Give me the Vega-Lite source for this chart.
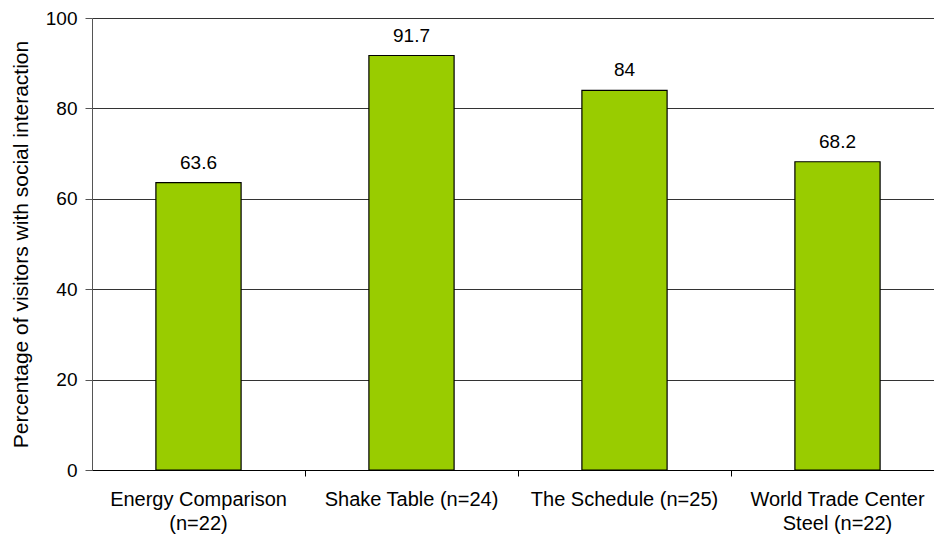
{
  "$schema": "https://vega.github.io/schema/vega-lite/v6.json",
  "width": 842,
  "height": 452,
  "autosize": {"type": "none"},
  "padding": {"left": 92, "top": 18, "right": 0, "bottom": 68},
  "background": "white",
  "config": {
    "view": {"stroke": null},
    "font": "Liberation Sans",
    "axis": {"labelFont": "Liberation Sans", "titleFont": "Liberation Sans"}
  },
  "data": {
    "values": [
      {"exhibit": "Energy Comparison (n=22)", "pct": 63.6},
      {"exhibit": "Shake Table (n=24)", "pct": 91.7},
      {"exhibit": "The Schedule (n=25)", "pct": 84},
      {"exhibit": "World Trade Center Steel (n=22)", "pct": 68.2}
    ]
  },
  "encoding": {
    "y": {
      "field": "pct",
      "type": "quantitative",
      "scale": {"domain": [0, 100], "nice": false},
      "axis": {
        "title": "Percentage of visitors with social interaction",
        "titleFontSize": 21,
        "titleFontWeight": "normal",
        "titleColor": "#000000",
        "titlePadding": 14,
        "values": [0, 20, 40, 60, 80, 100],
        "labelFontSize": 19,
        "labelColor": "#000000",
        "labelPadding": 8,
        "tickSize": 7,
        "tickColor": "#555555",
        "domainColor": "#555555",
        "grid": true,
        "gridColor": "#333333",
        "gridOpacity": 1
      }
    }
  },
  "layer": [
    {
      "mark": {"type": "bar", "fill": "#99CC00", "stroke": "#000000", "strokeWidth": 1.2},
      "encoding": {
        "x": {
          "field": "exhibit",
          "type": "nominal",
          "sort": null,
          "scale": {"range": [0, 852], "paddingInner": 0.6, "paddingOuter": 0.3},
          "axis": {
            "title": null,
            "orient": "bottom",
            "labelAngle": 0,
            "labelFontSize": 20,
            "labelColor": "#000000",
            "labelPadding": 13,
            "labelLineHeight": 24,
            "labelLimit": 300,
            "labelExpr": "datum.label == 'Energy Comparison (n=22)' ? ['Energy Comparison', '(n=22)'] : datum.label == 'World Trade Center Steel (n=22)' ? ['World Trade Center', 'Steel (n=22)'] : datum.label",
            "tickSize": 6,
            "tickOpacity": 0,
            "domainColor": "#000000",
            "grid": false
          }
        }
      }
    },
    {
      "mark": {"type": "text", "baseline": "alphabetic", "align": "center", "dy": -14, "fontSize": 19, "color": "#000000"},
      "encoding": {
        "x": {
          "field": "exhibit",
          "type": "nominal",
          "sort": null,
          "scale": {"range": [0, 852], "paddingInner": 0.6, "paddingOuter": 0.3},
          "axis": {
            "title": null,
            "orient": "bottom",
            "labels": false,
            "domain": false,
            "grid": false,
            "bandPosition": 1.75,
            "tickSize": 6,
            "tickColor": "#000000"
          }
        },
        "text": {"field": "pct", "type": "quantitative"}
      }
    }
  ],
  "resolve": {"axis": {"x": "independent"}}
}
